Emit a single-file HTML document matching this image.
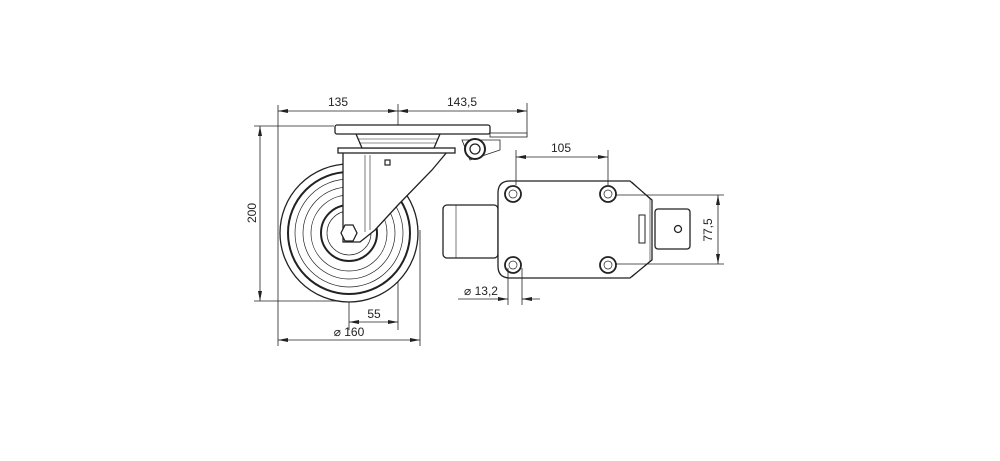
<!DOCTYPE html>
<html><head><style>
html,body{margin:0;padding:0;background:#fff}
svg{display:block}
text{font-family:"Liberation Sans",sans-serif;font-size:12px;fill:#222}
</style></head><body>
<svg width="1000" height="461" viewBox="0 0 1000 461" xmlns="http://www.w3.org/2000/svg">
<defs>
<marker id="a" markerWidth="10" markerHeight="6" refX="10" refY="3" orient="auto-start-reverse" markerUnits="userSpaceOnUse"><path d="M0,1 L10,3 L0,5 Z" fill="#222"/></marker>
</defs>
<g stroke="#222" fill="none" stroke-width="0.8">
<!-- extension lines -->
<line x1="278" y1="105" x2="278" y2="346"/>
<line x1="527" y1="103" x2="527" y2="137"/>
<line x1="398" y1="104" x2="398" y2="330"/>
<line x1="420" y1="230" x2="420" y2="346"/>
<line x1="349" y1="250" x2="349" y2="330"/>
<line x1="254" y1="126" x2="334" y2="126"/>
<line x1="254" y1="301" x2="345" y2="301"/>
<!-- dims -->
<line x1="278" y1="111" x2="398" y2="111" marker-start="url(#a)" marker-end="url(#a)"/>
<line x1="398" y1="111" x2="527" y2="111" marker-start="url(#a)" marker-end="url(#a)"/>
<line x1="260" y1="126" x2="260" y2="301" marker-start="url(#a)" marker-end="url(#a)"/>
<line x1="349" y1="322" x2="398" y2="322" marker-start="url(#a)" marker-end="url(#a)"/>
<line x1="278" y1="340" x2="420" y2="340" marker-start="url(#a)" marker-end="url(#a)"/>
</g>
<g stroke="#222" fill="#fff" stroke-width="1.3">
<!-- wheel -->
<circle cx="349" cy="233" r="69"/>
<circle cx="349" cy="233" r="61" stroke-width="2"/>
<circle cx="349" cy="233" r="54" stroke-width="0.7"/>
<circle cx="349" cy="233" r="46" stroke-width="0.7"/>
<circle cx="349" cy="233" r="38" stroke-width="0.7"/>
<circle cx="349" cy="233" r="28" stroke-width="2"/>
<circle cx="349" cy="233" r="22" stroke-width="0.7"/>
<!-- fork -->
<path d="M343 152 L447 152 L432 170 L398 205 L375 230 L360 242 L343 242 Z"/>
<line x1="365" y1="155" x2="365" y2="232" stroke-width="0.6"/>
<line x1="370" y1="155" x2="370" y2="230" stroke-width="0.6"/>
<rect x="385" y="160" width="5" height="5" stroke-width="1.2"/>
<rect x="338" y="148" width="117" height="5"/>
<polygon points="341,233 345,225 353,225 357,233 353,241 345,241"/>
<!-- housing & plate -->
<path d="M356 134 L440 134 L434 148 L362 148 Z"/>
<line x1="358" y1="139" x2="438" y2="139" stroke-width="0.6"/>
<line x1="359" y1="143" x2="437" y2="143" stroke-width="0.6"/>
<rect x="335" y="125" width="155" height="9" rx="2"/>
<rect x="490" y="133" width="37" height="4" stroke-width="0.8"/>
<path d="M462 140 L500 140 L500 150 L470 160 Z" stroke-width="0.8"/>
<circle cx="475" cy="149" r="10" stroke-width="2"/>
<circle cx="475" cy="149" r="5"/>
<!-- right view -->
<rect x="443" y="205" width="55" height="53" rx="4"/>
<line x1="456" y1="205" x2="456" y2="258" stroke-width="0.6"/>
<rect x="655" y="209" width="35" height="40" rx="3"/>
<circle cx="678" cy="229" r="3.5"/>
<path d="M510 181 L630 181 L652 200 L652 260 L630 278 L510 278 Q498 278 498 266 L498 193 Q498 181 510 181 Z"/>
<path d="M632 182 L650 199 L650 261 L632 277" fill="none" stroke-width="0.6"/>
<rect x="639" y="215" width="6" height="28" stroke-width="1"/>
<g stroke-width="1.8">
<circle cx="513" cy="194" r="8"/><circle cx="608" cy="194" r="8"/>
<circle cx="513" cy="265" r="8"/><circle cx="608" cy="265" r="8"/>
</g>
<g stroke-width="0.7">
<circle cx="513" cy="194" r="4"/><circle cx="608" cy="194" r="4"/>
<circle cx="513" cy="265" r="4"/><circle cx="608" cy="265" r="4"/>
</g>
</g>
<g stroke="#222" fill="none" stroke-width="0.8">
<line x1="516" y1="150" x2="516" y2="185"/>
<line x1="608" y1="150" x2="608" y2="185"/>
<line x1="516" y1="157" x2="608" y2="157" marker-start="url(#a)" marker-end="url(#a)"/>
<line x1="615" y1="195" x2="724" y2="195"/>
<line x1="615" y1="264" x2="724" y2="264"/>
<line x1="718" y1="195" x2="718" y2="264" marker-start="url(#a)" marker-end="url(#a)"/>
<line x1="508" y1="268" x2="508" y2="305"/>
<line x1="522" y1="268" x2="522" y2="305"/>
<line x1="458" y1="299" x2="498" y2="299"/>
<line x1="498" y1="299" x2="508" y2="299" marker-end="url(#a)"/>
<line x1="532" y1="299" x2="522" y2="299" marker-end="url(#a)"/>
<line x1="522" y1="299" x2="540" y2="299"/>
</g>
<text x="338" y="106" text-anchor="middle">135</text>
<text x="462" y="106" text-anchor="middle">143,5</text>
<text transform="translate(256,213) rotate(-90)" text-anchor="middle">200</text>
<text x="374" y="318" text-anchor="middle">55</text>
<text x="349" y="336" text-anchor="middle">⌀ 160</text>
<text x="561" y="152" text-anchor="middle">105</text>
<text transform="translate(712,230) rotate(-90)" text-anchor="middle">77,5</text>
<text x="481" y="295" text-anchor="middle">⌀ 13,2</text>
</svg>
</body></html>
